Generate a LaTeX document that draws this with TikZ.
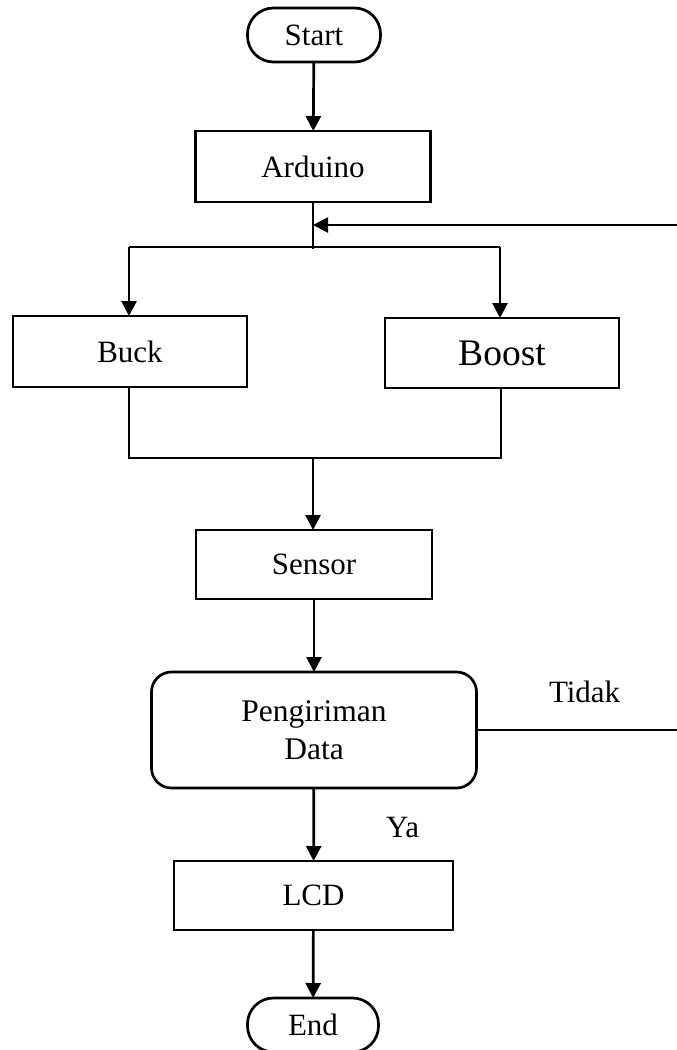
\documentclass[tikz,border=0pt]{standalone}
\usepackage{fontspec}
\setmainfont{Liberation Serif}
\usetikzlibrary{arrows.meta}
\begin{document}
\begin{tikzpicture}[x=1pt,y=-1pt,
  every node/.style={inner sep=0pt,outer sep=0pt},
  flow/.style={line width=2.7pt},
  arr/.style={flow,-{Triangle[length=15pt,width=15pt]}},
  terminal/.style={draw,line width=2.7pt,rounded corners=26pt,minimum width=133pt,minimum height=54pt,font=\fontsize{31}{37}\selectfont},
  procbox/.style={draw,line width=2.7pt,minimum height=71pt,font=\fontsize{31}{37}\selectfont},
  lbl/.style={font=\fontsize{31}{37}\selectfont}]
\useasboundingbox (0,0) rectangle (677,1050);

% blocks
\node[terminal] (start) at (314,35) {Start};
\node[procbox,minimum width=235pt] (ard) at (313,166.5) {Arduino};
\node[procbox,minimum width=234pt] (buck) at (130,351.5) {Buck};
\node[procbox,minimum width=234pt,minimum height=70pt,font=\fontsize{37.5}{44}\selectfont] (boost) at (502,353) {Boost};
\node[procbox,minimum width=236pt,minimum height=69pt] (sensor) at (314,564.5) {Sensor};
\node[draw,line width=2.7pt,rounded corners=20pt,minimum width=325pt,minimum height=116pt,
      align=center,font=\fontsize{31.5}{38}\selectfont] (pd) at (314,730) {Pengiriman\\Data};
\node[procbox,minimum width=279pt,minimum height=69pt] (lcd) at (313.5,895.5) {LCD};
\node[terminal,minimum width=131pt] (end) at (313,1025) {End};

% labels
\node[lbl,anchor=base west] (tidak) at (549,702) {Tidak};
\node[lbl,anchor=base west] (ya) at (386,837) {Ya};

% junction points
\coordinate (stemEnd) at (313,249);
\coordinate (loopIn) at (313,225);
\coordinate (loopEdge) at (677,225);
\coordinate (splitL) at (129,247);
\coordinate (splitR) at (500,247);
\coordinate (mergeL) at (129,458);
\coordinate (mergeR) at (501,458);
\coordinate (mergeMid) at (313,458);
\coordinate (noEdge) at (677,730);

% connectors
\draw[arr] (start) -- (ard);
\draw[flow] (ard.south) -- (stemEnd);
\draw[arr] (loopEdge) -- (loopIn);
\draw[flow] (splitL) -- (splitR);
\draw[arr] (splitL) -- (splitL |- buck.north);
\draw[arr] (splitR) -- (splitR |- boost.north);
\draw[flow] (mergeL |- buck.south) -- (mergeL) -- (mergeR) -- (mergeR |- boost.south);
\draw[arr] (mergeMid) -- (mergeMid |- sensor.north);
\draw[arr] (sensor) -- (pd);
\draw[flow] (pd.east) -- (noEdge);
\draw[arr] (pd) -- (lcd);
\draw[arr] (lcd) -- (end);
\end{tikzpicture}
\end{document}
